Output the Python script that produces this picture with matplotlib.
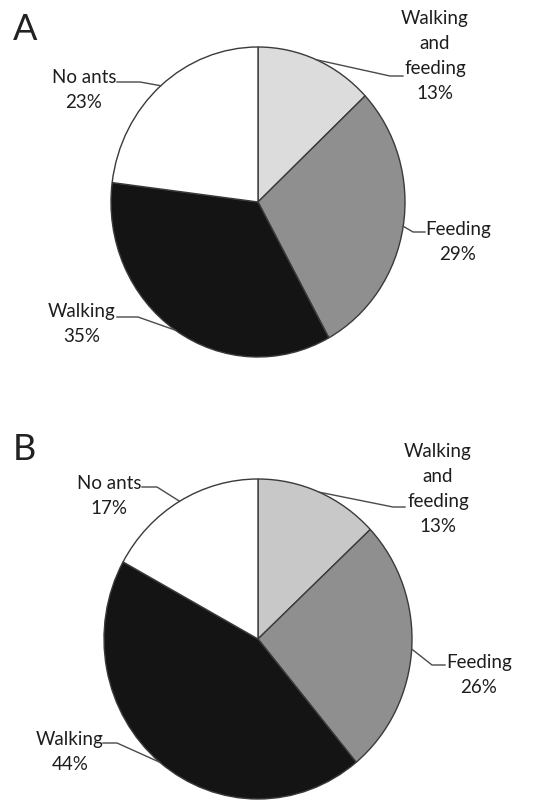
import matplotlib.pyplot as plt
import numpy as np

plt.rcParams['font.family'] = ['Lato', 'DejaVu Sans']

# data
categories = ['Walking\nand\nfeeding', 'Feeding', 'Walking', 'No ants']
share_a = [13, 29, 35, 23]
share_b = [13, 26, 44, 17]
colors_a = ['#dcdcdc', '#8f8f8f', '#141414', '#ffffff']
colors_b = ['#c8c8c8', '#8f8f8f', '#141414', '#ffffff']

W, H = 557, 801

# layout in pixels (from top-left): pie centre / radii, label centres, leader elbows
panels = [
    dict(letter='A', vals=share_a, colors=colors_a,
         cx=258, cy=202, rx=147, ry=155, letter_y=40,
         text_xy=[(435, 56), (458, 242), (82, 324), (84, 90)],
         elbow=[(390, 76, 403), (413, 232, 425), (138, 317, 117), (140, 82, 117)]),
    dict(letter='B', vals=share_b, colors=colors_b,
         cx=258, cy=639, rx=154, ry=160, letter_y=460,
         text_xy=[(438, 489), (479, 675), (70, 752), (109, 496)],
         elbow=[(393, 507, 405), (432, 665, 445), (117, 743, 103), (157, 487, 142)]),
]

fig = plt.figure(figsize=(W / 100, H / 100), dpi=100)
fig.patch.set_facecolor('white')

for p in panels:
    cx, cy, rx, ry = p['cx'], p['cy'], p['rx'], p['ry']
    ax = fig.add_axes([(cx - rx) / W, (H - cy - ry) / H, 2 * rx / W, 2 * ry / H])
    wedges, _ = ax.pie(p['vals'], colors=p['colors'], startangle=90, counterclock=False,
                       wedgeprops=dict(edgecolor='#3a3a3a', linewidth=1.0))
    ax.set_aspect('auto')
    ax.set_xlim(-1, 1)
    ax.set_ylim(-1, 1)
    ax.axis('off')

    def to_data(px, py):
        return (px - cx) / rx, (cy - py) / ry

    for w, cat, val, (tx, ty), (ex, ey, endx) in zip(wedges, categories, p['vals'],
                                                      p['text_xy'], p['elbow']):
        mid = np.deg2rad((w.theta1 + w.theta2) / 2)
        x0, y0 = np.cos(mid), np.sin(mid)
        x1, y1 = to_data(ex, ey)
        x2, y2 = to_data(endx, ey)
        ax.plot([x0, x1, x2], [y0, y1, y2], color='#4a4a4a', lw=1.0, clip_on=False)
        dx, dy = to_data(tx, ty)
        ax.text(dx, dy, f'{cat}\n{val}%', ha='center', va='center', ma='center',
                fontsize=13.5, color='#1e1e1e', linespacing=1.55)

    fig.text(13 / W, 1 - p['letter_y'] / H, p['letter'], fontsize=26,
             color='#222222', ha='left', va='baseline')

fig.savefig('out.png', dpi=100, facecolor='white')
